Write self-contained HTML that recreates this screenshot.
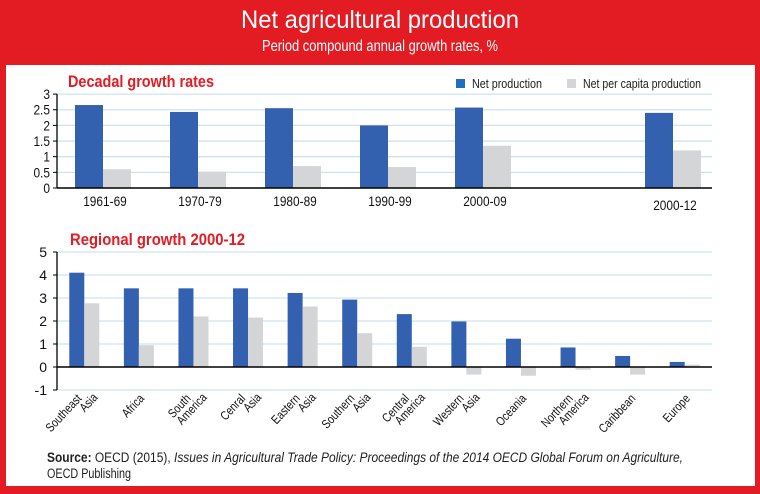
<!DOCTYPE html>
<html><head><meta charset="utf-8"><style>
body{margin:0;width:760px;height:489px;background:#e31b23;overflow:hidden;font-family:"Liberation Sans",sans-serif}
svg text{font-family:"Liberation Sans",sans-serif}
</style></head><body>
<svg width="760" height="489">
<rect x="0" y="0" width="760" height="489" fill="#e31b23"/>
<rect x="6" y="65" width="749" height="421" fill="#fff"/>
<text x="380" y="28" fill="#fff" font-size="25" text-anchor="middle" textLength="278" lengthAdjust="spacingAndGlyphs">Net agricultural production</text>
<text x="380" y="51" fill="#fff" font-size="16" text-anchor="middle" textLength="236" lengthAdjust="spacingAndGlyphs">Period compound annual growth rates, %</text>
<text x="68" y="87" fill="#e31b23" font-size="17" font-weight="bold" textLength="146" lengthAdjust="spacingAndGlyphs">Decadal growth rates</text>
<text x="70" y="245" fill="#e31b23" font-size="17" font-weight="bold" textLength="175" lengthAdjust="spacingAndGlyphs">Regional growth 2000-12</text>
<rect x="456" y="79" width="9" height="9" fill="#1f6fc0"/>
<text x="472" y="88" font-size="12.5" fill="#222" textLength="70" lengthAdjust="spacingAndGlyphs">Net production</text>
<rect x="567" y="79" width="9" height="9" fill="#d4d5d7"/>
<text x="583" y="88" font-size="12.5" fill="#222" textLength="118" lengthAdjust="spacingAndGlyphs">Net per capita production</text>
<g id="top"></g><g id="bot"></g>
<text x="47" y="462" font-size="13.5" fill="#222" textLength="636" lengthAdjust="spacingAndGlyphs"><tspan font-weight="bold">Source:</tspan> OECD (2015), <tspan font-style="italic">Issues in Agricultural Trade Policy: Proceedings of the 2014 OECD Global Forum on Agriculture,</tspan></text>
<text x="47" y="478" font-size="13.5" fill="#222" textLength="84" lengthAdjust="spacingAndGlyphs">OECD Publishing</text>
</svg>
<script>
const topCats=["1961-69","1970-79","1980-89","1990-99","2000-09","2000-12"];
const topSlots=[0,1,2,3,4,6];
const topNet=[2.65,2.43,2.55,2.0,2.57,2.4];
const topPc=[0.6,0.52,0.7,0.67,1.35,1.2];
const topTicks=["0","0.5","1","1.5","2","2.5","3"];
const botCats=[["Southeast","Asia"],["Africa"],["South","America"],["Cenral","Asia"],["Eastern","Asia"],["Southern","Asia"],["Central","America"],["Western","Asia"],["Oceania"],["Northern","America"],["Caribbean"],["Europe"]];
const botNet=[4.1,3.42,3.42,3.42,3.22,2.93,2.3,1.98,1.23,0.85,0.48,0.22];
const botPc=[2.77,0.95,2.2,2.15,2.63,1.47,0.88,-0.33,-0.38,-0.12,-0.33,0.1];
const botTicks=["-1","0","1","2","3","4","5"];
const NS="http://www.w3.org/2000/svg";
function mk(p,t,a){const e=document.createElementNS(NS,t);for(const k in a)e.setAttribute(k,a[k]);p.appendChild(e);return e;}
const X0=57,X1=712;
const gt=document.getElementById('top');
const ty=v=>188-v*31.3;
topTicks.forEach(t=>{const v=+t;const y=ty(v);
 if(v>0){const l=mk(gt,'line',{x1:X0,x2:X1,y1:y,y2:y,stroke:'#cde3f1','stroke-width':1.3});}
 const tk=mk(gt,'line',{x1:X0-4,x2:X0,y1:y,y2:y,stroke:'#000'});
 const tx=mk(gt,'text',{x:X0-7,y:y+5,'font-size':14,'text-anchor':'end',fill:'#111',transform:`translate(${X0-7} 0) scale(0.85 1) translate(${-(X0-7)} 0)`});tx.textContent=t;});
topCats.forEach((c,i)=>{const cx=103+95*topSlots[i];
 const b=mk(gt,'rect',{x:cx-28,y:ty(topNet[i]),width:28,height:topNet[i]*31.3,fill:'#3460b0'});
 const g=mk(gt,'rect',{x:cx,y:ty(topPc[i]),width:28,height:topPc[i]*31.3,fill:'#d4d5d7'});
 const t=mk(gt,'text',{x:cx+2,y:i==5?210:206,'font-size':13.5,'text-anchor':'middle',fill:'#111',transform:`translate(${cx+2} 0) scale(0.88 1) translate(${-(cx+2)} 0)`});t.textContent=c;});
let a=mk(gt,'line',{x1:X0,x2:X0,y1:ty(3),y2:188,stroke:'#000','stroke-width':1.3});
a=mk(gt,'line',{x1:X0,x2:X1,y1:188,y2:188,stroke:'#000','stroke-width':1.5});
const gb=document.getElementById('bot');
const by=v=>367-v*23;
const sw=(X1-X0)/botCats.length;
botTicks.forEach(t=>{const v=+t;const y=by(v);
 if(v!=0){const l=mk(gb,'line',{x1:X0,x2:X1,y1:y,y2:y,stroke:'#cde3f1','stroke-width':1.3});}
 const tk=mk(gb,'line',{x1:X0-4,x2:X0,y1:y,y2:y,stroke:'#000'});
 const tx=mk(gb,'text',{x:X0-10,y:y+5,'font-size':14,'text-anchor':'end',fill:'#111'});tx.textContent=t;});
botCats.forEach((c,i)=>{const cx=X0+sw*(i+0.5);
 const n=botNet[i],p=botPc[i];
 const b=mk(gb,'rect',{x:cx-15,y:by(Math.max(n,0)),width:15,height:Math.abs(n)*23,fill:'#3460b0'});
 const g=mk(gb,'rect',{x:cx,y:by(Math.max(p,0)),width:15,height:Math.abs(p)*23,fill:'#d4d5d7'});
 const pos=c.length==2?[[cx-2,399],[cx+14,398]]:[[cx+6,399]];
 c.forEach((w,j)=>{const t=mk(gb,'text',{x:0,y:0,'font-size':12.5,'text-anchor':'end',fill:'#111',transform:`translate(${pos[j][0]} ${pos[j][1]}) rotate(-47) scale(0.82 1)`});t.textContent=w;});});
a=mk(gb,'line',{x1:X0,x2:X0,y1:by(5),y2:by(-1),stroke:'#000','stroke-width':1.3});
a=mk(gb,'line',{x1:X0,x2:X1,y1:367,y2:367,stroke:'#000','stroke-width':1.5});
</script>
</body></html>
